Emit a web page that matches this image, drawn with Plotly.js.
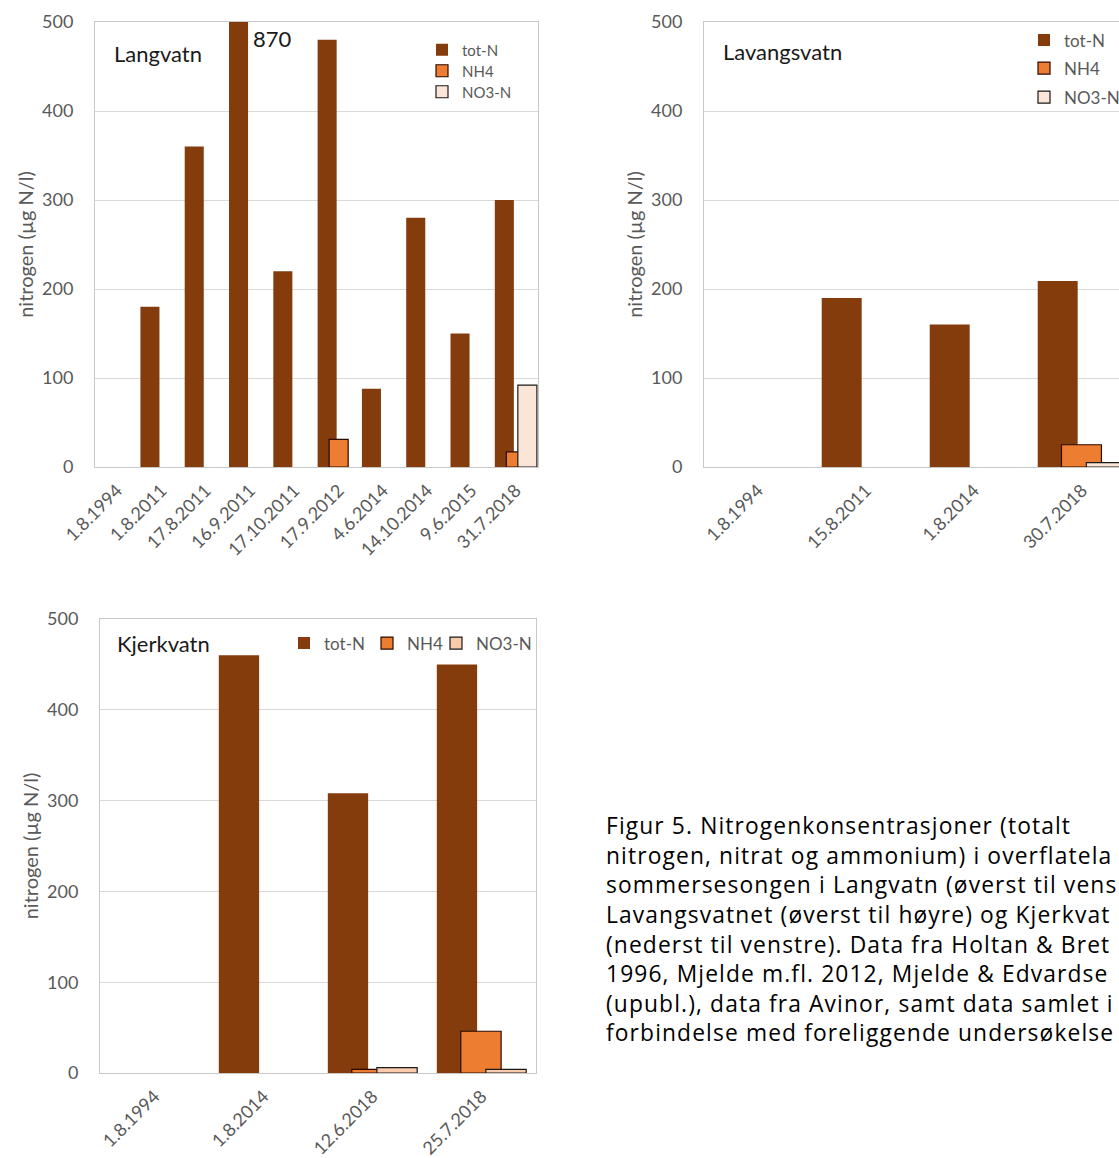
<!DOCTYPE html>
<html>
<head>
<meta charset="utf-8">
<script src="https://cdn.plot.ly/plotly-3.0.1.min.js"></script>
<style>
html,body{margin:0;padding:0;overflow:hidden;background:#fff;width:1119px;height:1158px;}
#chart{width:1200px;height:1158px;}
</style>
</head>
<body>
<div id="chart"></div>
<script>
// ---------- data ----------
const seriesNames = ['tot-N', 'NH4', 'NO3-N'];

const langCats = ['1.8.1994','1.8.2011','17.8.2011','16.9.2011','17.10.2011','17.9.2012','4.6.2014','14.10.2014','9.6.2015','31.7.2018'];
const langTotN = [null, 180, 360, 870, 220, 480, 88, 280, 150, 300];
const langNH4  = [null, null, null, null, null, 31, null, null, null, 17];
const langNO3  = [null, null, null, null, null, null, null, null, null, 92];

const lavCats = ['1.8.1994','15.8.2011','1.8.2014','30.7.2018'];
const lavTotN = [null, 190, 160, 209];
const lavNH4  = [null, null, null, 25];
const lavNO3  = [null, null, null, 5];

const kjeCats = ['1.8.1994','1.8.2014','12.6.2018','25.7.2018'];
const kjeTotN = [null, 460, 308, 450];
const kjeNH4  = [null, null, 4, 46];
const kjeNO3  = [null, null, 6, 4];

const yTicks = [0, 100, 200, 300, 400, 500];
const yTitle = 'nitrogen (µg N/l)';
const lakeNames = ['Langvatn', 'Lavangsvatn', 'Kjerkvatn'];

const captionLines = [
  'Figur 5. Nitrogenkonsentrasjoner (totalt',
  'nitrogen, nitrat og ammonium) i overflatela',
  'sommersesongen i Langvatn (øverst til vens',
  'Lavangsvatnet (øverst til høyre) og Kjerkvat',
  '(nederst til venstre). Data fra Holtan & Bret',
  '1996, Mjelde m.fl. 2012, Mjelde & Edvardse',
  '(upubl.), data fra Avinor, samt data samlet i',
  'forbindelse med foreliggende undersøkelse'
];

// ---------- styling ----------
const W = 1200, H = 1158;
const FONT = 'Lato, "Open Sans", sans-serif';
const CAPFONT = '"Open Sans", Lato, sans-serif';
const colTot = '#843C0C', colNH4 = '#ED7D31', colNO3a = '#FBE5D6', colNO3b = '#F8CBAD';
const fx = p => p / W;
const fy = p => 1 - p / H;

function traces(cats, tot, nh4, no3, xa, ya, legs, wBar, offs, no3col) {
  const mk = (name, y, color, line, off, i) => ({
    type: 'bar', name: name, x: cats, y: y,
    xaxis: xa, yaxis: ya, legend: legs[i],
    width: wBar, offset: off,
    marker: {color: color, line: line},
    hoverinfo: 'x+y+name'
  });
  return [
    mk(seriesNames[0], tot, colTot, {color: colTot, width: 0}, offs[0], 0),
    mk(seriesNames[1], nh4, colNH4, {color: '#2b0a00', width: 1.2}, offs[1], 1),
    mk(seriesNames[2], no3, no3col, {color: '#1a1a1a', width: 1.2}, offs[2], 2)
  ];
}

const data = [
  ...traces(langCats, langTotN, langNH4, langNO3, 'x', 'y', ['legend', 'legend2', 'legend3'], 0.43, [-0.475, -0.215, 0.045], colNO3a),
  ...traces(lavCats, lavTotN, lavNH4, lavNO3, 'x2', 'y2', ['legend4', 'legend5', 'legend6'], 0.37, [-0.41, -0.19, 0.04], colNO3a),
  ...traces(kjeCats, kjeTotN, kjeNH4, kjeNO3, 'x3', 'y3', ['legend7', 'legend8', 'legend9'], 0.37, [-0.41, -0.19, 0.04], colNO3b)
];

const tickFont = {family: FONT, size: 18, color: '#595959'};
function xAx(d, anchor) {
  return {
    domain: [fx(d[0]), fx(d[1])], anchor: anchor, type: 'category',
    showgrid: false, showline: true, mirror: true, linecolor: '#C8C8C8', linewidth: 1,
    ticks: '', tickangle: -45, tickfont: tickFont, ticklabelstandoff: 5,
    fixedrange: true
  };
}
function yAx(d, anchor) {
  return {
    domain: [fy(d[1]), fy(d[0])], anchor: anchor,
    range: [0, 500], tickvals: yTicks, ticktext: yTicks.map(String),
    showgrid: true, gridcolor: '#D9D9D9', gridwidth: 1,
    zeroline: false, showline: true, mirror: true, linecolor: '#C8C8C8', linewidth: 1,
    ticks: '', tickfont: tickFont, ticklabelstandoff: 17,
    title: {text: yTitle, font: {family: FONT, size: 20, color: '#595959'}, standoff: 3},
    fixedrange: true
  };
}
function leg(xpx, ypx, size) {
  return {
    x: fx(xpx), y: fy(ypx), xanchor: 'left', yanchor: 'top',
    xref: 'paper', yref: 'paper',
    bgcolor: 'rgba(0,0,0,0)', borderwidth: 0,
    font: {family: FONT, size: size || 17, color: '#595959'},
    itemwidth: 30
  };
}

const annotations = [
  {xref: 'paper', yref: 'paper', x: fx(112), y: fy(53), xanchor: 'left', yanchor: 'middle',
   text: lakeNames[0], showarrow: false, font: {family: FONT, size: 22, color: '#1a1a1a'}},
  {xref: 'paper', yref: 'paper', x: fx(721), y: fy(52), xanchor: 'left', yanchor: 'middle',
   text: lakeNames[1], showarrow: false, font: {family: FONT, size: 22, color: '#1a1a1a'}},
  {xref: 'paper', yref: 'paper', x: fx(115), y: fy(643), xanchor: 'left', yanchor: 'middle',
   text: lakeNames[2], showarrow: false, font: {family: FONT, size: 22, color: '#1a1a1a'}},
  // clipped value label
  {xref: 'x', yref: 'y', x: langCats[3], y: 500, xanchor: 'left', yanchor: 'top',
   xshift: 1, yshift: -1, text: String(langTotN[3]), showarrow: false,
   font: {family: FONT, size: 22, color: '#1a1a1a'}},
  // caption
  {xref: 'paper', yref: 'paper', x: fx(604), y: fy(808), xanchor: 'left', yanchor: 'top',
   align: 'left',
   text: captionLines.map(s => '<span style="letter-spacing:1.12px">' + s + '</span>').join('<br>'),
   showarrow: false,
   font: {family: CAPFONT, size: 22.8, color: '#000000'}}
];

const layout = {
  width: W, height: H,
  margin: {l: 0, r: 0, t: 0, b: 0, pad: 0},
  paper_bgcolor: '#ffffff', plot_bgcolor: '#ffffff',
  barmode: 'overlay',
  font: {family: FONT, color: '#595959'},
  showlegend: true,
  xaxis: xAx([95, 538], 'y'), yaxis: yAx([22, 467], 'x'),
  xaxis2: xAx([704, 1136], 'y2'), yaxis2: yAx([22, 467], 'x2'),
  xaxis3: xAx([100, 536], 'y3'), yaxis3: yAx([619, 1073], 'x3'),
  legend: leg(422, 33.5, 15), legend2: leg(422, 54.5, 15), legend3: leg(422, 75.5, 15),
  legend4: leg(1024, 22.5), legend5: leg(1024, 50.5), legend6: leg(1024, 79.5),
  legend7: leg(284, 625.5), legend8: leg(367, 625.5), legend9: leg(436, 625.5),
  annotations: annotations
};

Plotly.newPlot('chart', data, layout, {displayModeBar: false, responsive: false});
</script>
</body>
</html>
